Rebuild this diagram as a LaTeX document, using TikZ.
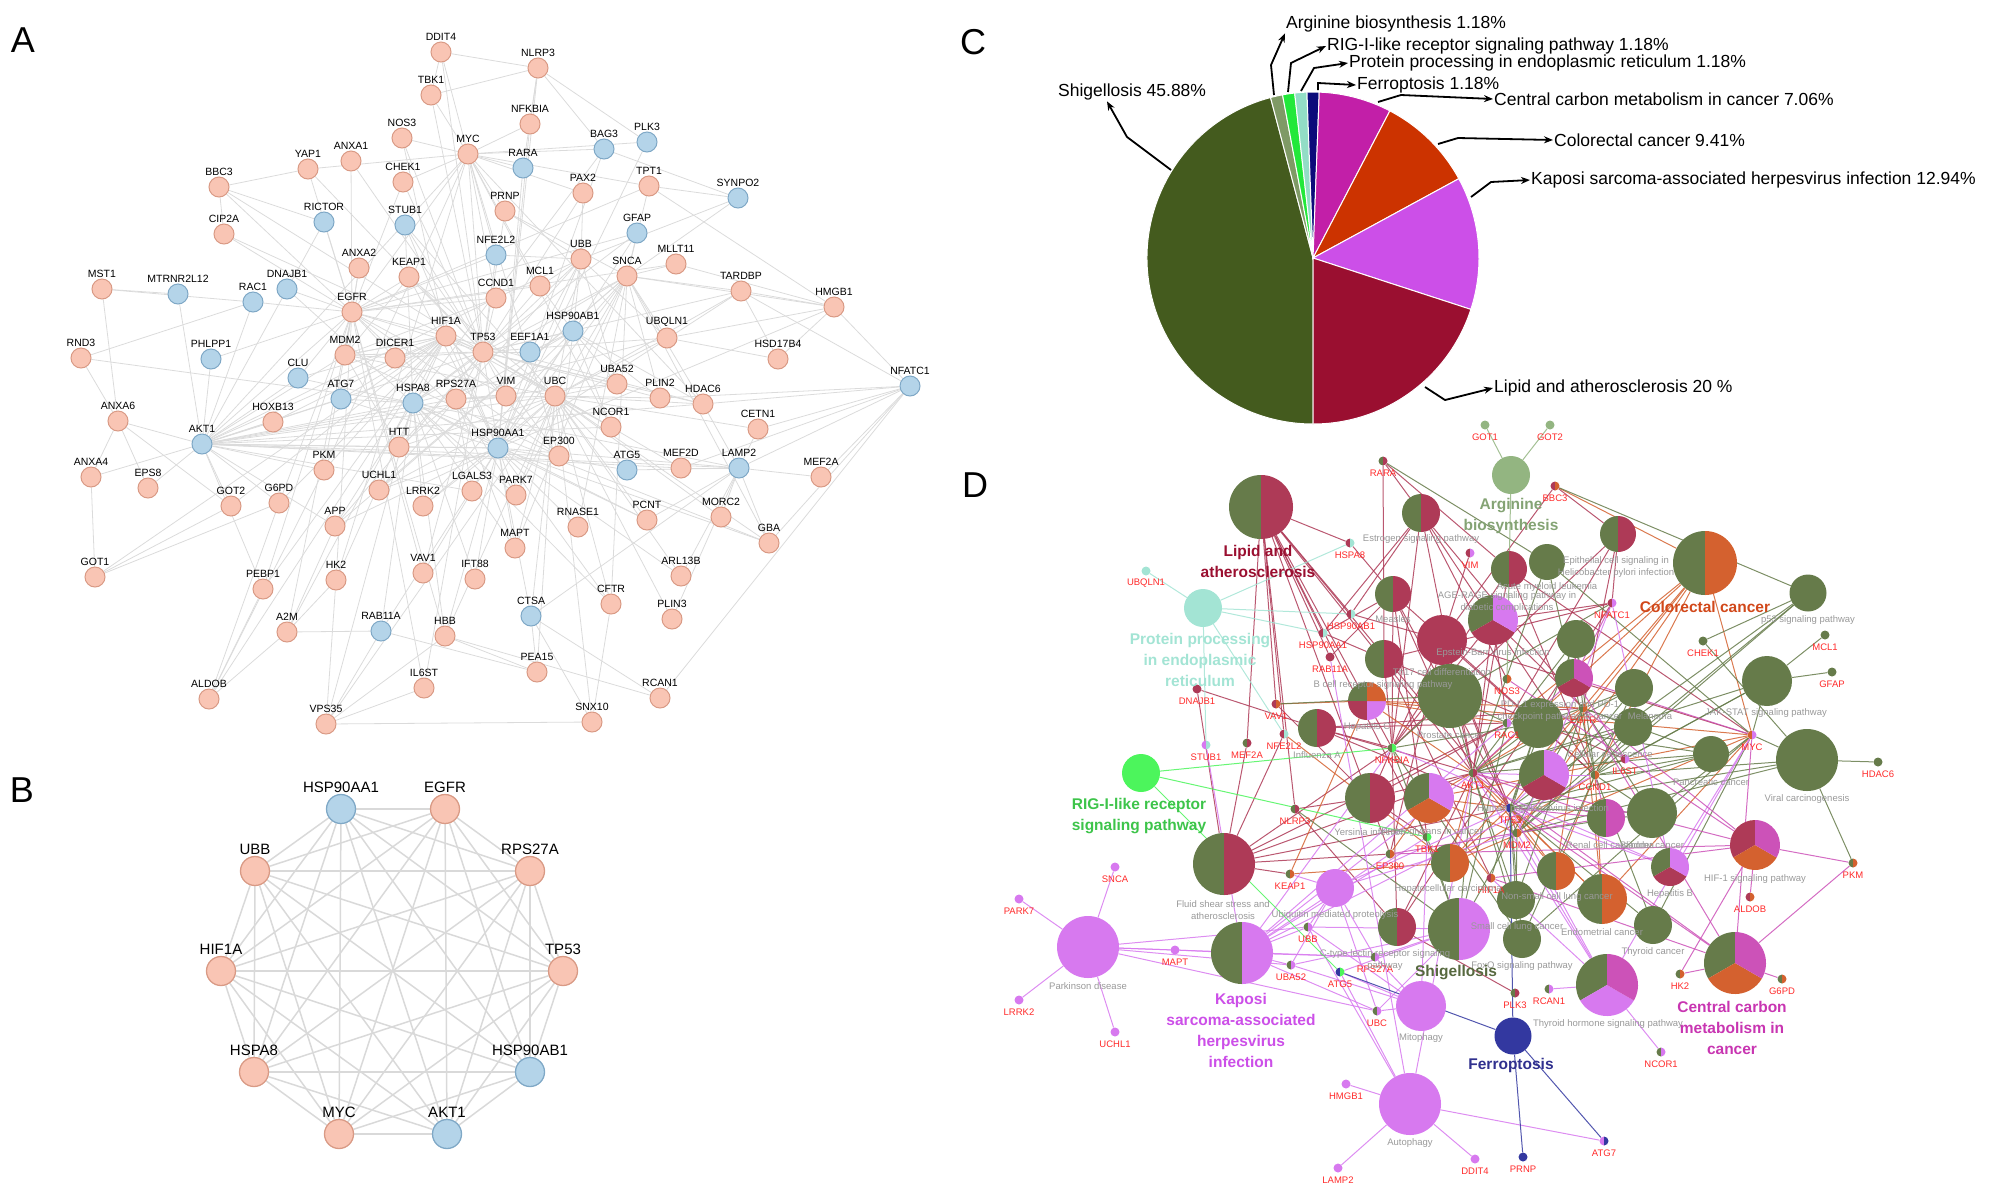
\documentclass[tikz,border=0pt]{standalone}
\usepackage{fontspec}
\setmainfont{Liberation Sans}
\usetikzlibrary{arrows.meta}

% colours of the three panels
\definecolor{apink}{HTML}{F9C5B4}
\definecolor{apinkd}{HTML}{D99A85}
\definecolor{ablue}{HTML}{B4D4E9}
\definecolor{ablued}{HTML}{7FA8C6}
\definecolor{cshig}{HTML}{445B1E}
\definecolor{carg}{HTML}{7F9A66}
\definecolor{crig}{HTML}{22E83A}
\definecolor{cprot}{HTML}{92DDC6}
\definecolor{cferro}{HTML}{0B0B7A}
\definecolor{ccent}{HTML}{C21FA8}
\definecolor{ccolo}{HTML}{CC3300}
\definecolor{ckapo}{HTML}{CC4FE8}
\definecolor{clipid}{HTML}{9A0F30}
\definecolor{dolive}{HTML}{667B4A}
\definecolor{dcrim}{HTML}{AE3A57}
\definecolor{dorng}{HTML}{D4612F}
\definecolor{dviol}{HTML}{D779EF}
\definecolor{dmag}{HTML}{CC52B8}
\definecolor{dteal}{HTML}{A3E4D4}
\definecolor{dargn}{HTML}{93B581}
\definecolor{dgrn}{HTML}{4CF55C}
\definecolor{dnavy}{HTML}{3338A0}
\definecolor{dred}{HTML}{FF2A2A}

\pgfdeclarelayer{edges}
\pgfsetlayers{edges,main}

% a node drawn as a small pie: name, x, y, radius, colours
\newcommand\piepart[5]{%
  \node[circle, inner sep=0pt, minimum size={2*#4pt}] (#1) at (#2,#3) {};
  \edef\pielist{#5}%
  \foreach \pc [count=\pn] in \pielist {\xdef\pienum{\pn}}%
  \foreach \pc [count=\pk] in \pielist {%
    \pgfmathsetmacro\sa{90+(\pk-1)*360/\pienum}%
    \pgfmathsetmacro\ea{90+\pk*360/\pienum}%
    \fill[\pc] (#2,#3) -- ++(\sa:#4pt) arc[start angle=\sa, end angle=\ea, radius=#4pt] -- cycle;
  }%
}

\tikzset{
  agene/.style={circle, minimum size=20pt, inner sep=0pt, line width=1pt, label distance=2pt},
  agenep/.style={agene, fill=apink, draw=apinkd},
  ageneb/.style={agene, fill=ablue, draw=ablued},
  alabel/.style={font=\fontsize{10.5}{12}\selectfont, inner sep=1pt},
  aedge/.style={draw=black!14, line width=0.8pt},
  bgene/.style={circle, minimum size=29pt, inner sep=0pt, line width=1.3pt, label distance=2pt},
  bgenep/.style={bgene, fill=apink, draw=apinkd},
  bgeneb/.style={bgene, fill=ablue, draw=ablued},
  blabel/.style={font=\fontsize{15}{17}\selectfont, inner sep=1pt},
  bedge/.style={draw=black!15, line width=1.5pt},
  panel/.style={font=\fontsize{36}{40}\selectfont, inner sep=0pt},
  clabel/.style={font=\fontsize{17.5}{20}\selectfont, anchor=west, inner sep=1pt},
  carrow/.style={-{Stealth[length=9pt,width=7pt]}, line width=1.8pt},
  dglabel/.style={font=\fontsize{9.5}{11}\selectfont, text=dred, inner sep=0pt},
  dterm/.style={font=\fontsize{9.5}{12}\selectfont, text=black!40, align=center, inner sep=0pt},
  dbig/.style={font=\bfseries\fontsize{15.5}{21}\selectfont, align=center, inner sep=0pt},
  dedge/.style={line width=1pt, opacity=0.85},
}

\begin{document}
\begin{tikzpicture}[x=1pt,y=-1pt]
\useasboundingbox (0,0) rectangle (2008,1187);

% panel letters
\node[panel] (pA) at (23,40) {A};
\node[panel] (pB) at (22,790) {B};
\node[panel] (pC) at (973,42) {C};
\node[panel] (pD) at (975,485) {D};

% ---------------- A: the network
\foreach \n/\x/\y/\s in {DDIT4/441/52/p, TBK1/431/95/p, NLRP3/538/68/p, NOS3/402/138/p,
  NFKBIA/530/124/p, MYC/468/154/p, ANXA1/351/161/p, YAP1/308/169/p, BAG3/604/149/b,
  PLK3/647/142/b, RARA/523/168/b, BBC3/219/187/p, CHEK1/403/182/p, PAX2/583/193/p,
  TPT1/649/186/p, SYNPO2/738/198/b, PRNP/505/211/p, RICTOR/324/222/b, STUB1/405/225/b,
  CIP2A/224/234/p, GFAP/637/233/b, NFE2L2/496/255/b, UBB/581/259/p, MLLT11/676/264/p,
  ANXA2/359/268/p, KEAP1/409/277/p, SNCA/627/276/p, MCL1/540/286/p, MST1/102/289/p,
  MTRNR2L12/178/294/b, DNAJB1/287/289/b, TARDBP/741/291/p, CCND1/496/298/p, RAC1/253/302/b,
  HMGB1/834/307/p, EGFR/352/312/p, HSP90AB1/573/331/b, HIF1A/446/336/p, UBQLN1/667/338/p,
  TP53/483/352/p, EEF1A1/530/352/b, MDM2/345/355/p, DICER1/395/358/p, RND3/81/358/p,
  PHLPP1/211/359/b, HSD17B4/778/359/p, CLU/298/378/b, UBA52/617/384/p, NFATC1/910/386/b,
  ATG7/341/399/b, HSPA8/413/403/b, RPS27A/456/399/p, VIM/506/396/p, UBC/555/396/p,
  PLIN2/660/398/p, HDAC6/703/404/p, ANXA6/118/421/p, HOXB13/273/422/p, NCOR1/611/427/p,
  CETN1/758/429/p, AKT1/202/444/b, HTT/399/447/p, HSP90AA1/498/448/b, EP300/559/456/p,
  ATG5/627/470/b, MEF2D/681/468/p, LAMP2/739/468/b, PKM/324/470/p, ANXA4/91/477/p,
  MEF2A/821/477/p, EPS8/148/488/p, UCHL1/379/490/p, LGALS3/472/491/p, PARK7/516/495/p,
  G6PD/279/503/p, GOT2/231/506/p, LRRK2/423/506/p, MORC2/721/517/p, PCNT/647/520/p,
  APP/335/526/p, RNASE1/578/527/p, GBA/769/543/p, MAPT/515/548/p, VAV1/423/573/p,
  GOT1/95/577/p, ARL13B/681/576/p, IFT88/475/579/p, HK2/336/580/p, PEBP1/263/589/p,
  CFTR/611/604/p, CTSA/531/616/b, PLIN3/672/619/p, RAB11A/381/631/b, A2M/287/632/p,
  HBB/445/636/p, PEA15/537/672/p, IL6ST/424/688/p, RCAN1/660/698/p, ALDOB/209/699/p,
  SNX10/592/722/p, VPS35/326/724/p}
  \node[agene\s, label={[alabel]above:\n}] (a\n) at (\x,\y) {};

\begin{pgfonlayer}{edges}
\foreach \h/\ts in {
  AKT1/{ANXA6,EPS8,PHLPP1,RAC1,HOXB13,ATG7,HSPA8,HTT,PKM,APP,GOT2,G6PD,TP53,MDM2,EGFR,HIF1A,HSP90AA1,MYC,CCND1,RICTOR,UBC,PEBP1,LAMP2,MEF2D,HDAC6,VIM,RPS27A,EP300,NCOR1,LGALS3,CLU,MTRNR2L12,ANXA4},
  TP53/{DDIT4,TBK1,NOS3,MYC,CHEK1,STUB1,KEAP1,HIF1A,MDM2,DICER1,EGFR,HSPA8,RPS27A,VIM,UBC,UBB,HSP90AA1,HSP90AB1,EEF1A1,CCND1,MCL1,NFE2L2,EP300,HDAC6,NCOR1,UBA52,PLIN2,PRNP,APP,HTT,SNCA,YAP1,BBC3,ANXA1,CIP2A,PAX2,MEF2D,UBQLN1,TARDBP,IL6ST,VAV1},
  HSP90AA1/{NLRP3,NFKBIA,RARA,BAG3,PLK3,GFAP,HSP90AB1,UBB,UBC,HSPA8,EGFR,HIF1A,STUB1,KEAP1,TARDBP,MAPT,LRRK2,PARK7,CFTR,HTT,APP,ATG5,ATG7,RAB11A,VAV1,IFT88,HBB,LAMP2,CTSA,GBA,UCHL1,SNCA,HMGB1,PCNT,RNASE1,ARL13B},
  UBC/{UBB,UBA52,RPS27A,MDM2,STUB1,KEAP1,PARK7,UCHL1,SNCA,LRRK2,HTT,MAPT,TARDBP,UBQLN1,HDAC6,PLIN2,PLIN3,ATG5,CFTR,CTSA,GBA,MORC2,CETN1,PCNT,SNX10,VPS35,PEA15,HBB,ARL13B},
  EGFR/{ANXA1,ANXA2,YAP1,BBC3,CIP2A,RICTOR,DNAJB1,RAC1,PHLPP1,CLU,MDM2,DICER1,HIF1A,MYC,CCND1,KEAP1,NFE2L2,EP300,VAV1,HK2,PKM,G6PD,A2M,PEBP1,IL6ST,HBB,VIM,MCL1,CHEK1,TPT1,GFAP,MLLT11},
  MYC/{DDIT4,TBK1,NOS3,NFKBIA,RARA,PAX2,PRNP,NFE2L2,CCND1,MCL1,HDAC6,NCOR1,EP300,HK2,PKM,CHEK1,YAP1,PLK3,BAG3,TPT1},
  HIF1A/{NOS3,HK2,PKM,G6PD,GOT1,GOT2,ALDOB,EP300,NCOR1,MDM2,HDAC6,VIM,A2M,PEBP1,HOXB13,ATG7,CLU},
  HSPA8/{CLU,DNAJB1,ATG7,STUB1,BAG3,LAMP2,GFAP,UBQLN1,HTT,APP,MAPT,SNCA,LRRK2,PARK7,GBA,CFTR,HBB,RAB11A,VPS35,IFT88,PCNT},
  SNCA/{SYNPO2,TPT1,MLLT11,GFAP,TARDBP,HMGB1,UBQLN1,PARK7,LRRK2,UCHL1,MAPT,APP,PRNP,PLIN2,HDAC6,GBA,CFTR,RNASE1},
  UBB/{HSP90AB1,UBQLN1,MCL1,PRNP,NFE2L2,CCND1,EEF1A1,UBA52,RPS27A,PAX2},
  HSP90AB1/{EEF1A1,UBA52,NCOR1,PLIN2,HDAC6,EP300,RPS27A,VIM,MCL1},
  RPS27A/{VIM,UBA52,HTT,UCHL1,LGALS3,PARK7,MAPT},
  MDM2/{DICER1,HIF1A,CCND1,EP300,ANXA2,KEAP1,HTT},
  NFATC1/{HDAC6,CETN1,LAMP2,MEF2A,MEF2D,TARDBP,HMGB1,RCAN1,GBA,PLIN2},
  LAMP2/{MEF2A,MEF2D,ATG5,GBA,MORC2,CETN1,HDAC6,PCNT,ARL13B,PLIN3,CTSA},
  MST1/{MTRNR2L12,ANXA6,RAC1}, RND3/{ANXA6,HSPA8,RAC1}, ANXA6/{ANXA4,EPS8,GOT2},
  GOT1/{GOT2,G6PD,ANXA4}, ALDOB/{PEBP1,A2M,G6PD,PKM}, VPS35/{RAB11A,IL6ST,HK2,SNX10,HBB},
  SNX10/{CTSA,CFTR}, RCAN1/{CTSA,HBB}, SYNPO2/{TPT1,BAG3,UBB},
  HMGB1/{TARDBP,TPT1,UBQLN1,HSD17B4,MLLT11}, HSD17B4/{TARDBP,UBQLN1}, DDIT4/{TBK1,NLRP3},
  NLRP3/{NFKBIA,TBK1,BAG3,PLK3,RARA}, BBC3/{RICTOR,CIP2A,YAP1}, PEA15/{CTSA,HBB,RAB11A},
  A2M/{HK2,APP,RAB11A}}
  {\foreach \t in \ts {\draw[aedge] (a\h) -- (a\t);}}
\end{pgfonlayer}

% ---------------- B: the ten hubs
\foreach \i/\n/\x/\y/\s in {1/HSP90AA1/341/809/b, 2/EGFR/445/809/p, 3/RPS27A/530/871/p,
  4/TP53/563/971/p, 5/HSP90AB1/530/1072/b, 6/AKT1/447/1134/b, 7/MYC/339/1134/p,
  8/HSPA8/254/1072/p, 9/HIF1A/221/971/p, 10/UBB/255/871/p}
  \node[bgene\s, label={[blabel]above:\n}] (b\i) at (\x,\y) {};
\begin{pgfonlayer}{edges}
\foreach \i in {1,...,9} {
  \pgfmathtruncatemacro\k{\i+1}
  \foreach \j in {\k,...,10} \draw[bedge] (b\i) -- (b\j);
}
\end{pgfonlayer}

% ---------------- C: the pie
\coordinate (pc) at (1313,258);
\foreach \sa/\ea/\cc in {104.83/270/cshig, 100.58/104.83/carg, 96.34/100.58/crig,
  92.09/96.34/cprot, 87.84/92.09/cferro, 62.42/87.84/ccent, 28.55/62.42/ccolo,
  -18.03/28.55/ckapo, -90/-18.03/clipid}
  \filldraw[fill=\cc, draw=white, line width=1pt] (pc) -- ++(\sa:166pt)
    arc[start angle=\sa, end angle=\ea, radius=166pt] -- cycle;

\node[clabel] (lshig) at (1057,92) {Shigellosis 45.88\%};
\node[clabel] (larg) at (1285,24) {Arginine biosynthesis 1.18\%};
\node[clabel] (lrig) at (1326,46) {RIG-I-like receptor signaling pathway 1.18\%};
\node[clabel] (lprot) at (1348,63) {Protein processing in endoplasmic reticulum 1.18\%};
\node[clabel] (lferro) at (1356,85) {Ferroptosis 1.18\%};
\node[clabel] (lcent) at (1493,99) {Central carbon metabolism in cancer 7.06\%};
\node[clabel] (lcolo) at (1553,140) {Colorectal cancer 9.41\%};
\node[clabel] (lkapo) at (1530,180) {Kaposi sarcoma-associated herpesvirus infection 12.94\%};
\node[clabel] (llip) at (1493,388) {Lipid and atherosclerosis 20 \%};

\draw[carrow] (1171,170) -- (1127,137) -- ([xshift=50pt]lshig.south west);
\draw[carrow] (1274,95) -- (1271,65) -- (larg.south west);
\draw[carrow] (1288,92) -- (1291,63) -- (lrig.west);
\draw[carrow] (1301,91) -- (1314,68) -- (lprot.west);
\draw[carrow] (1318,90) -- (1318,83) -- (lferro.west);
\draw[carrow] (1378,102) -- (1401,95) -- (lcent.west);
\draw[carrow] (1438,144) -- (1458,138) -- (lcolo.west);
\draw[carrow] (1471,197) -- (1491,182) -- (lkapo.west);
\draw[carrow] (1425,387) -- (1445,400) -- (llip.west);

% ---------------- D: pathways and their genes
\foreach \n/\x/\y/\r/\cs in {Lipid/1261/507/32/{dolive,dcrim}, Estrogen/1421/513/19/{dolive,dcrim},
  Arg/1511/475/19/{dargn}, Prot/1203/608/19/{dteal}, Measles/1393/594/18/{dolive,dcrim},
  AML/1547/562/18/{dolive}, AMLb/1509/569/18/{dolive,dcrim}, Epi/1618/534/18/{dolive,dcrim},
  Colorectal/1705/563/32/{dolive,dorng}, Pfs/1808/593/18.5/{dolive},
  AGE/1493/620/25/{dolive,dcrim,dviol}, EBV/1442/640/25/{dcrim}, Olv1/1576/639/19/{dolive},
  Th17/1384/659/19/{dolive,dcrim}, Bcell/1450/696/32/{dolive},
  Quad/1367/701/19/{dolive,dcrim,dviol,dorng}, HepC/1317/728/19/{dolive,dcrim},
  Tri1/1574/678/19/{dolive,dcrim,dmag}, Olv2/1634/688/19/{dolive}, JAK/1767/681/25/{dolive},
  PDL1/1538/723/25/{dolive}, Melan/1633/727/19/{dolive}, Panc/1711/754/18/{dolive},
  Viral/1807/760/31/{dolive}, RIG/1141/773/19/{dgrn}, Senes/1544/775/25/{dolive,dcrim,dviol},
  Yersinia/1370/798/25/{dolive,dcrim}, Proteo/1429/798/25/{dolive,dorng,dviol},
  HPV/1606/818/19/{dolive,dmag}, Bladder/1652/813/25/{dolive}, HIF/1755/845/25/{dcrim,dorng,dmag},
  HCC/1450/863/19/{dolive,dorng}, NSCLC/1556/871/19/{dolive,dorng},
  HepB/1670/867/19/{dolive,dcrim,dviol}, Fluid/1224/864/31/{dolive,dcrim}, Ubiq/1335/888/19/{dviol},
  Olv3/1516/900/19/{dolive}, Endo/1602/899/25/{dolive,dorng}, Thyroid/1653/925/19/{dolive},
  Ctype/1397/927/19/{dolive,dcrim}, Shig/1459/929/31/{dolive,dviol}, SCLC/1522/939/19/{dolive},
  Parkinson/1088/947/31/{dviol}, Kaposi/1242/953/31/{dolive,dviol},
  Central/1735/963/31/{dolive,dorng,dmag}, ThyHorm/1607/985/31/{dolive,dviol,dmag},
  Mito/1421/1006/25/{dviol}, Ferro/1513/1036/18.5/{dnavy}, Auto/1410/1104/31/{dviol}}
  {\piepart{t\n}{\x}{\y}{\r}{\cs}}

\foreach \n/\x/\y/\cs in {GOT1/1485/425/{dargn}, GOT2/1550/425/{dargn}, RARA/1383/461/{dolive,dcrim},
  BBC3/1555/486/{dcrim,dorng}, HSPA8/1350/543/{dcrim,dteal}, VIM/1470/553/{dcrim,dviol},
  UBQLN1/1146/571/{dteal}, HSP90AB1/1351/614/{dcrim,dteal}, HSP90AA1/1323/633/{dcrim,dteal},
  RAB11A/1330/657/{dcrim}, DNAJB1/1197/689/{dcrim}, VAV1/1276/704/{dcrim,dorng},
  NFE2L2/1284/734/{dcrim,dteal}, STUB1/1206/745/{dviol,dteal}, MEF2A/1247/743/{dolive,dcrim},
  NFKBIA/1392/748/{dolive,dgrn}, AKT1/1473/773/{dolive,dcrim}, NLRP3/1295/809/{dolive,dcrim},
  NFATC1/1612/603/{dcrim,dviol}, NOS3/1507/679/{dolive,dorng}, CHEK1/1703/641/{dolive},
  MCL1/1825/635/{dolive}, GFAP/1832/672/{dolive}, EGFR/1583/708/{dolive,dorng},
  RAC1/1507/723/{dolive,dviol}, MYC/1752/735/{dorng,dviol}, IL6ST/1625/759/{dcrim,dviol},
  CCND1/1595/775/{dolive,dorng}, HDAC6/1878/762/{dolive}, TP53/1510/808/{dnavy,dolive},
  MDM2/1517/833/{dolive,dorng}, TBK1/1427/837/{dolive,dgrn}, EP300/1390/854/{dolive,dorng},
  KEAP1/1290/874/{dolive,dorng}, HIF1A/1491/878/{dcrim,dorng}, PKM/1853/863/{dolive,dorng},
  ALDOB/1750/897/{dcrim,dorng}, HK2/1680/974/{dolive,dorng}, G6PD/1782/979/{dolive,dorng},
  RCAN1/1549/989/{dolive,dviol}, PLK3/1515/993/{dolive,dcrim}, NCOR1/1661/1052/{dolive,dviol},
  ATG7/1604/1141/{dviol,dnavy}, PRNP/1523/1157/{dnavy}, SNCA/1115/867/{dviol},
  PARK7/1019/899/{dviol}, LRRK2/1019/1000/{dviol}, UCHL1/1115/1032/{dviol}, MAPT/1175/950/{dviol},
  UBB/1308/927/{dolive,dviol}, UBA52/1291/965/{dolive,dviol}, RPS27A/1375/957/{dolive,dviol},
  ATG5/1340/972/{dnavy,dgrn}, UBC/1377/1011/{dolive,dviol}, HMGB1/1346/1084/{dviol},
  LAMP2/1338/1168/{dviol}, DDIT4/1475/1159/{dviol}}
  {\piepart{d\n}{\x}{\y}{4.5}{\cs}
   \node[dglabel] at (\x,\y+12) {\n};}

\begin{pgfonlayer}{edges}
\foreach \cc/\t/\gs in {
  dcrim/Lipid/{HSPA8,HSP90AB1,HSP90AA1,RAB11A,VAV1,NFE2L2,NFKBIA,AKT1,NLRP3,TBK1,TP53,EP300,MEF2A},
  dcrim/Estrogen/{RARA,HSP90AB1,HSP90AA1,AKT1,NOS3,EGFR,CCND1,NFKBIA},
  dcrim/Measles/{HSPA8,HSP90AA1,AKT1,TBK1,NFKBIA,CCND1,TP53,RAB11A},
  dcrim/EBV/{VIM,HSP90AB1,NFKBIA,AKT1,MDM2,TP53,MYC,CCND1,EP300,BBC3},
  dcrim/Th17/{HSP90AA1,NFATC1,RARA,HIF1A,IL6ST,NFKBIA},
  dcrim/HepC/{NFKBIA,AKT1,TP53,EGFR,DNAJB1,RAC1},
  dcrim/Fluid/{DNAJB1,NFE2L2,KEAP1,AKT1,NFKBIA,TP53,MEF2A,RAC1,EP300},
  dcrim/Yersinia/{NFKBIA,AKT1,RAC1,VAV1,NLRP3,TBK1},
  dcrim/Ctype/{NFKBIA,AKT1,NFATC1,NLRP3,PLK3},
  dcrim/Epi/{NFATC1,NFKBIA,RAC1,EGFR,BBC3},
  dcrim/AMLb/{RARA,AKT1,MYC,CCND1,NFKBIA},
  dcrim/AGE/{NFATC1,AKT1,NFKBIA,EGFR,RAC1},
  dorng/Colorectal/{BBC3,MYC,CCND1,AKT1,EGFR,RAC1,TP53,MDM2},
  dorng/Quad/{VAV1,RAC1,EGFR,AKT1,MYC,KEAP1},
  dorng/HCC/{TP53,CCND1,EGFR,KEAP1,NFE2L2,MYC,AKT1},
  dorng/NSCLC/{EGFR,TP53,AKT1,CCND1},
  dorng/Endo/{EGFR,TP53,AKT1,CCND1,MYC},
  dorng/Proteo/{EGFR,MYC,MDM2,TP53,HIF1A,EP300},
  dolive/Pfs/{BBC3,CHEK1,MDM2,TP53,CCND1},
  dolive/JAK/{MCL1,GFAP,MYC,CCND1,AKT1,IL6ST},
  dolive/Viral/{HDAC6,MYC,CCND1,TP53,MDM2,PKM,CHEK1},
  dolive/Panc/{EGFR,AKT1,RAC1,CCND1,TP53},
  dolive/Olv1/{EGFR,AKT1,CCND1,TP53},
  dolive/Olv2/{EGFR,AKT1,MDM2,CCND1},
  dolive/Melan/{EGFR,AKT1,MDM2,CCND1},
  dolive/PDL1/{EGFR,AKT1,NFKBIA,HIF1A,TP53},
  dolive/Bcell/{NFKBIA,AKT1,RAC1,VAV1,NFATC1},
  dolive/Bladder/{EGFR,MYC,CCND1,TP53,MDM2},
  dolive/AML/{AKT1,MYC,CCND1,RARA},
  dolive/Olv3/{TP53,EGFR,AKT1,MDM2},
  dolive/SCLC/{TP53,AKT1,MYC,CCND1,NFKBIA},
  dolive/Thyroid/{TP53,MYC,CCND1},
  dolive/Shig/{NFKBIA,AKT1,TBK1,RAC1,NLRP3,EGFR},
  dargn/Arg/{GOT1,GOT2,NOS3},
  dviol/Parkinson/{SNCA,PARK7,LRRK2,UCHL1,MAPT,UBB,UBA52,UBC,RPS27A},
  dviol/Kaposi/{UBB,UBA52,RPS27A,UBC,AKT1,NFKBIA,TBK1,STUB1,EP300,MAPT,RAC1,CCND1},
  dviol/Mito/{UBB,UBC,UBA52,RPS27A,ATG5,TBK1},
  dviol/Auto/{HMGB1,LAMP2,DDIT4,ATG7,ATG5,AKT1,RAB11A,UBB},
  dviol/Ubiq/{UBB,UBC,UBA52,RPS27A,MDM2,TP53,KEAP1},
  dviol/ThyHorm/{NCOR1,RCAN1,AKT1,MDM2,TP53,MYC,HIF1A},
  dviol/HepB/{NFATC1,NFKBIA,TP53,MYC},
  dviol/Senes/{NFATC1,AKT1,TP53,MDM2,CCND1},
  dviol/Shig/{UBB,UBC,UBA52,RPS27A,ATG5},
  dmag/Central/{HK2,G6PD,PKM,MYC,HIF1A,TP53,EGFR,AKT1},
  dmag/HIF/{ALDOB,HK2,PKM,HIF1A,EGFR,AKT1,NOS3,EP300},
  dmag/HPV/{AKT1,TP53,CCND1,EP300},
  dmag/Tri1/{NFATC1,MYC,IL6ST,AKT1},
  dteal/Prot/{UBQLN1,HSPA8,HSP90AB1,HSP90AA1,STUB1,NFE2L2},
  dgrn/RIG/{NFKBIA,TBK1,ATG5},
  dnavy/Ferro/{ATG5,TP53,PRNP,ATG7}}
  {\foreach \g in \gs {\draw[dedge, draw=\cc] (t\t) -- (d\g);}}
\end{pgfonlayer}

% pathway names
\foreach \x/\y/\txt in {1421/539/Estrogen signaling pathway, 1393/619/Measles,
  1493/653/Epstein-Barr virus infection,
  1507/602/{AGE-RAGE signaling pathway in\\diabetic complications},
  1616/567/{Epithelial cell signaling in\\Helicobacter pylori infection},
  1547/587/Acute myeloid leukemia, 1442/672/Th17 cell differentiation,
  1383/685/B cell receptor signaling pathway, 1367/727/Hepatitis C, 1317/755/Influenza A,
  1450/735/Prostate cancer, 1560/711/{PD-L1 expression and PD-1\\checkpoint pathway in cancer},
  1650/716/Melanoma, 1808/620/p53 signaling pathway, 1766/713/JAK-STAT signaling pathway,
  1610/754/Cellular senescence, 1711/782/Pancreatic cancer, 1807/799/Viral carcinogenesis,
  1370/832/Yersinia infection, 1432/832/Proteoglycans in cancer,
  1543/809/Human papillomavirus infection, 1610/845/Renal cell carcinoma,
  1652/845/Bladder cancer, 1755/879/HIF-1 signaling pathway, 1448/889/Hepatocellular carcinoma,
  1557/897/Non-small cell lung cancer, 1670/894/Hepatitis B, 1602/932/Endometrial cancer,
  1653/952/Thyroid cancer, 1517/927/Small cell lung cancer, 1522/966/FoxO signaling pathway,
  1335/915/Ubiquitin mediated proteolysis,
  1385/960/{C-type lectin receptor signaling\\pathway},
  1223/910/{Fluid shear stress and\\atherosclerosis}, 1088/986/Parkinson disease,
  1421/1038/Mitophagy, 1410/1143/Autophagy, 1608/1024/Thyroid hormone signaling pathway}
  \node[dterm] at (\x,\y) {\txt};

\node[dbig, text=clipid] (nLipid) at (1258,561) {Lipid and\\atherosclerosis};
\node[dbig, text=dargn!90!black] (nArg) at (1511,516) {Arginine\\biosynthesis};
\node[dbig, text=dteal] (nProt) at (1200,660) {Protein processing\\in endoplasmic\\reticulum};
\node[dbig, text=ccolo!90!white] (nColo) at (1705,607) {Colorectal cancer};
\node[dbig, text=dgrn!80!black] (nRig) at (1139,816) {RIG-I-like receptor\\signaling pathway};
\node[dbig, text=ckapo] (nKapo) at (1241,1030) {Kaposi\\sarcoma-associated\\herpesvirus\\infection};
\node[dbig, text=dolive!85!black] (nShig) at (1456,973) {Shigellosis};
\node[dbig, text=cferro!85!white] (nFerro) at (1511,1065) {Ferroptosis};
\node[dbig, text=ccent!90!white] (nCent) at (1732,1028) {Central carbon\\metabolism in\\cancer};

\end{tikzpicture}
\end{document}
